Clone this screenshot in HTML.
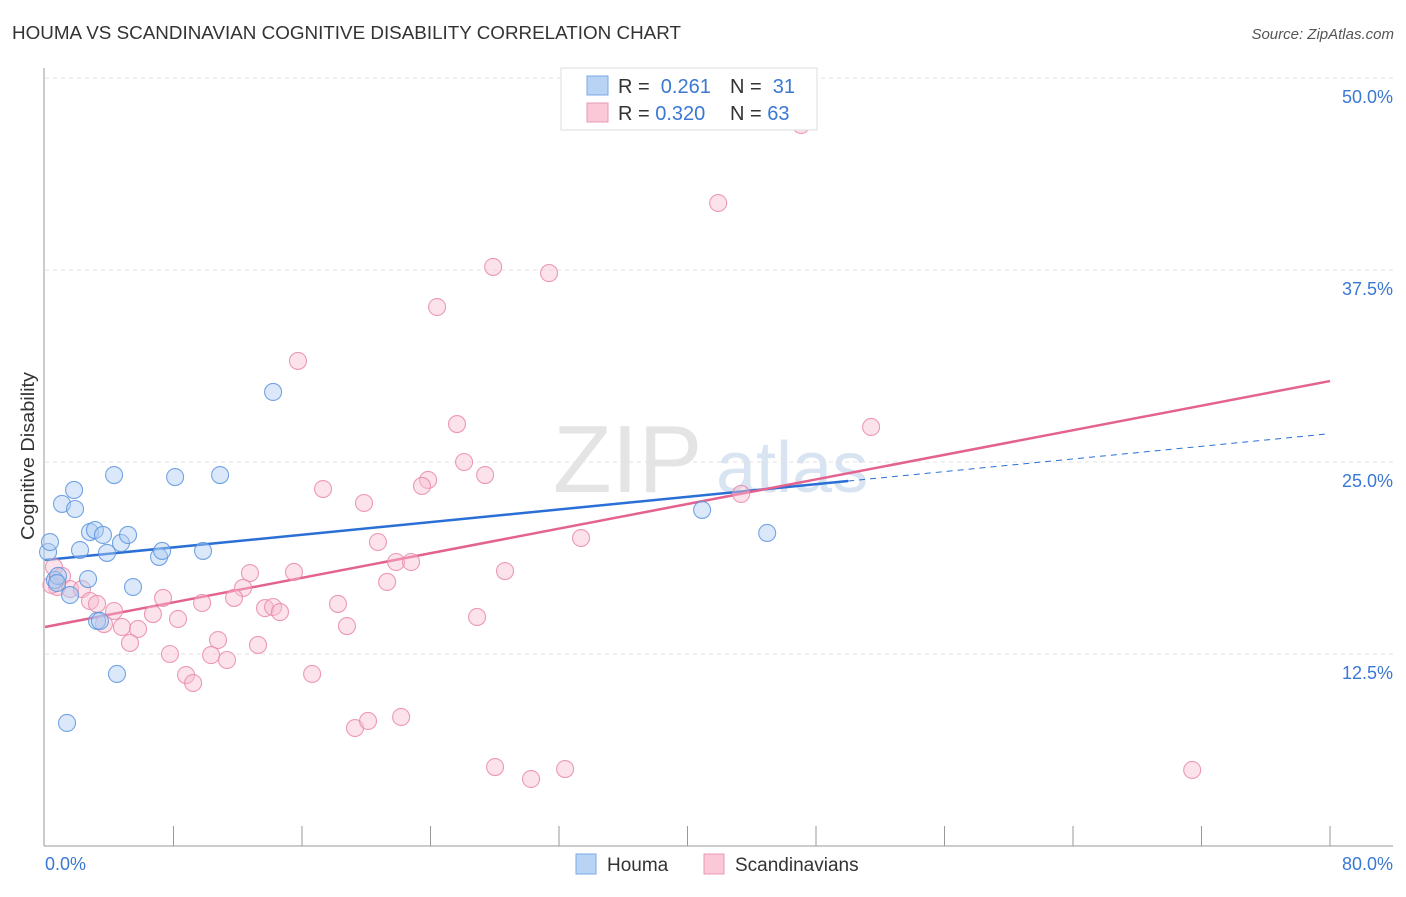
<!DOCTYPE html>
<html><head><meta charset="utf-8"><style>
body{margin:0;background:#fff;font-family:"Liberation Sans",sans-serif;}
svg text{font-family:"Liberation Sans",sans-serif;}
</style></head><body>
<svg id="chart" width="1406" height="892" viewBox="0 0 1406 892" xmlns="http://www.w3.org/2000/svg">
<text x="12" y="39" font-size="18" fill="#333" textLength="669" lengthAdjust="spacingAndGlyphs">HOUMA VS SCANDINAVIAN COGNITIVE DISABILITY CORRELATION CHART</text>
<text x="1394" y="39" font-size="15" fill="#555" text-anchor="end" font-style="italic">Source: ZipAtlas.com</text>
<g>
<text x="553" y="492" font-size="96" fill="#e4e4e4" font-family="Liberation Serif,serif">ZIP</text>
<text x="716" y="492" font-size="72" fill="#d8e4f2">atlas</text>
</g>
<g id="grid"></g>
<g id="axes"></g>
<g id="lines"></g>
<g id="points"></g>
<text transform="translate(34,456) rotate(-90)" font-size="18" fill="#333" text-anchor="middle" textLength="168" lengthAdjust="spacingAndGlyphs">Cognitive Disability</text>
<g>
<rect x="561" y="68" width="256" height="62" fill="#fff" stroke="#ddd"/>
<rect x="587" y="76" width="21" height="19" fill="#b9d3f5" stroke="#7aa8e6"/>
<rect x="587" y="103" width="21" height="19" fill="#fac8d7" stroke="#eb98b3"/>
<text x="618" y="93" font-size="20" fill="#333">R = <tspan fill="#3a78d4">&#160;0.261</tspan></text>
<text x="730" y="93" font-size="20" fill="#333">N = <tspan fill="#3a78d4">&#160;31</tspan></text>
<text x="618" y="120" font-size="20" fill="#333">R = <tspan fill="#3a78d4">0.320</tspan></text>
<text x="730" y="120" font-size="20" fill="#333">N = <tspan fill="#3a78d4">63</tspan></text>
</g>
<g>
<rect x="576" y="854" width="20" height="20" fill="#b9d3f5" stroke="#7aa8e6"/>
<text x="607" y="871" font-size="19" fill="#333">Houma</text>
<rect x="704" y="854" width="20" height="20" fill="#fac8d7" stroke="#eb98b3"/>
<text x="735" y="871" font-size="19" fill="#333">Scandinavians</text>
</g>
</svg>
<script>
const yTicks=[12.5,25.0,37.5,50.0];
const yTickLabels=["12.5%","25.0%","37.5%","50.0%"];
const xTickLabels=["0.0%","80.0%"];
const houmaX=[0.19,0.31,0.62,0.81,1.06,1.37,1.56,1.81,1.87,2.18,2.68,2.80,3.11,3.24,3.42,3.61,3.86,4.30,4.48,4.73,5.17,5.48,7.10,7.29,8.10,9.84,10.90,14.20,40.91,44.96,0.75];
const houmaY=[19.14,19.79,17.32,17.58,22.27,8.01,16.34,23.18,21.94,19.27,17.38,20.44,20.57,14.65,14.65,20.25,19.08,24.15,11.20,19.73,20.25,16.86,18.82,19.21,24.02,19.21,24.15,29.56,21.88,20.38,17.12];
const scandX=[47.07,41.91,27.90,31.38,24.41,15.75,51.43,25.65,26.09,23.85,27.40,23.47,17.31,19.86,43.34,20.73,33.37,21.86,22.79,28.64,12.76,15.50,21.30,12.33,0.56,0.75,1.06,1.56,2.30,2.80,3.24,4.30,3.67,4.79,5.79,5.29,6.72,7.35,8.28,9.78,11.77,13.70,14.20,14.63,18.24,18.80,26.90,10.77,13.26,10.34,11.33,7.78,8.78,9.22,16.63,19.30,20.11,22.17,28.02,30.26,32.38,71.42,0.4];
const scandY=[46.94,41.86,37.70,37.30,35.09,31.58,27.28,27.47,25.00,23.83,24.15,23.44,23.24,22.33,22.92,19.79,20.05,18.49,18.49,17.90,17.77,17.84,17.19,16.80,18.16,16.86,17.58,16.73,16.73,15.95,15.76,15.30,14.45,14.26,14.13,13.22,15.10,16.15,14.78,15.82,16.15,15.49,15.56,15.23,15.76,14.32,14.91,13.41,13.09,12.43,12.11,12.50,11.13,10.61,11.20,7.68,8.14,8.40,5.14,4.36,5.01,4.95,17.0];
const houmaTrend=[18.62,23.76];
const houmaTrendEndX=50;
const scandTrend=[14.26,30.27];
const NS="http://www.w3.org/2000/svg";
const X0=45,X1=1330,Y0=846,Y50=78;
const sx=v=>X0+(v/80)*(X1-X0);
const sy=v=>Y0-(v/50)*(Y0-Y50);
function mk(tag,attrs,parent){const e=document.createElementNS(NS,tag);for(const k in attrs)e.setAttribute(k,attrs[k]);document.getElementById(parent).appendChild(e);return e;}
yTicks.forEach((t,i)=>{
  const g=mk('line',{x1:45,x2:1393,y1:sy(t),y2:sy(t),stroke:'#e2e2e2','stroke-dasharray':'4,4'},'grid');
  
  
  const tx=mk('text',{x:1393,y:sy(t)+25,'font-size':18,fill:'#3a78d4','text-anchor':'end'},'grid');
  tx.textContent=yTickLabels[i];
  
  
});
let a=mk('line',{x1:44,x2:44,y1:68,y2:846,stroke:'#999'},'axes');


a=mk('line',{x1:44,x2:1393,y1:846,y2:846,stroke:'#999'},'axes');


for(let v=8;v<=80;v+=8){
  const t=mk('line',{x1:sx(v),x2:sx(v),y1:826,y2:846,stroke:'#999'},'axes');
  
  
}
[[0,'start',45],[80,'end',1393]].forEach((d,i)=>{
  const t=mk('text',{x:d[2],y:870,'font-size':18,fill:'#3a78d4','text-anchor':d[1]},'axes');
  t.textContent=xTickLabels[i];
  
  
});
function addPts(xs,ys,fill,stroke,name){
  xs.forEach((x,i)=>{
    const c=mk('circle',{cx:sx(x),cy:sy(ys[i]),r:8.5,fill:fill,'fill-opacity':0.45,stroke:stroke,'stroke-width':1.1,'stroke-opacity':0.85},'points');
    
    
  });
}
addPts(scandX,scandY,'#f8bfd1','#e98aab','scandinavian-point');
addPts(houmaX,houmaY,'#aecbf2','#5d95de','houma-point');
const hs=(houmaTrend[1]-houmaTrend[0])/houmaTrendEndX;
let l=mk('line',{x1:sx(0),y1:sy(houmaTrend[0]),x2:sx(houmaTrendEndX),y2:sy(houmaTrend[1]),stroke:'#2a6fd6','stroke-width':2.5},'lines');


l=mk('line',{x1:sx(houmaTrendEndX),y1:sy(houmaTrend[1]),x2:sx(79.7),y2:sy(houmaTrend[0]+hs*79.7),stroke:'#2a6fd6','stroke-width':1,'stroke-dasharray':'6,5'},'lines');


l=mk('line',{x1:sx(0),y1:sy(scandTrend[0]),x2:sx(80),y2:sy(scandTrend[1]),stroke:'#e4628f','stroke-width':2.5},'lines');


</script>
</body></html>
